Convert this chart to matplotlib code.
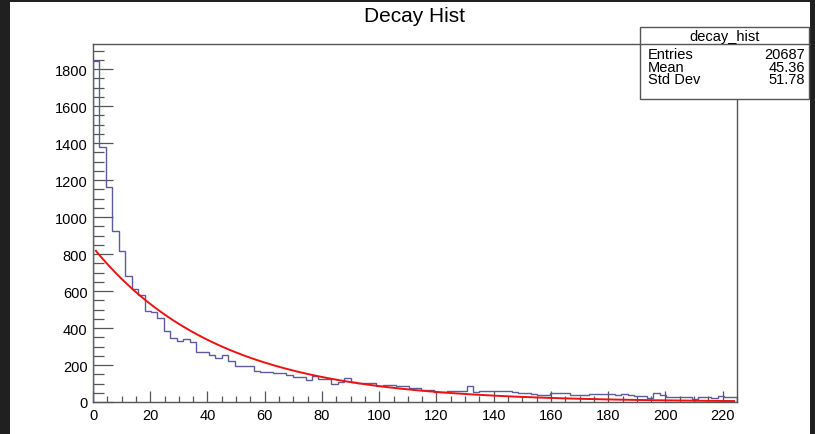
import numpy as np
import matplotlib
matplotlib.use("Agg")
import matplotlib.pyplot as plt
from matplotlib.patches import Rectangle
from matplotlib.ticker import MultipleLocator

plt.rcParams['font.family'] = ['Liberation Sans', 'DejaVu Sans']

# ---------------- data ----------------
title = "Decay Hist"
hist_name = "decay_hist"
n_bins = 100
x_min, x_max = 0.0, 225.0
counts = [
    1843, 1377, 1162, 926, 815, 683, 611, 580, 493, 485,
    452, 385, 348, 328, 340, 324, 270, 268, 254, 238,
    254, 220, 192, 192, 194, 165, 162, 160, 158, 155,
    145, 133, 133, 119, 142, 124, 124, 97, 110, 128,
    110, 103, 103, 105, 85, 92, 92, 88, 88, 74,
    74, 66, 66, 55, 52, 61, 58, 58, 85, 52,
    58, 58, 62, 61, 57, 52, 47, 47, 42, 40,
    40, 47, 50, 48, 38, 40, 36, 42, 43, 43,
    43, 38, 43, 40, 34, 30, 22, 49, 40, 29,
    29, 25, 25, 16, 25, 25, 20, 34, 25, 25,
]
# exponential fit parameters (TF1 drawn over its range)
fit_amp = 836.0
fit_tau = 43.9
fit_range = [1.0, 224.0]
stats_labels = ["Entries", "Mean", "Std Dev"]
stats_values = ["20687", "45.36", "51.78"]

# ---------------- figure ----------------
W, H = 815, 435
fig = plt.figure(figsize=(W / 100, H / 100), dpi=100)
fig.patch.set_facecolor('#202020')
fig.add_artist(Rectangle((10 / W, 0), 800 / W, (H - 3) / H, transform=fig.transFigure,
                         facecolor='white', edgecolor='none', zorder=-10))

ax_l, ax_r, ax_t, ax_b = 93, 737, 45, 403
ax = fig.add_axes([ax_l / W, (H - ax_b) / H, (ax_r - ax_l) / W, (ax_b - ax_t) / H])
ax.set_facecolor('white')

edges = np.linspace(x_min, x_max, n_bins + 1)
ax.stairs(counts, edges, baseline=0, color='#5c5c9c', lw=1.0, zorder=3)

xf = np.linspace(fit_range[0], fit_range[1], 400)
ax.plot(xf, fit_amp * np.exp(-xf / fit_tau), color='#ee1111', lw=1.4, zorder=4)

ax.set_xlim(x_min, x_max)
ax.set_ylim(0, 1.05 * max(counts))

frame_col = '#555555'
for s in ax.spines.values():
    s.set_color(frame_col)
    s.set_linewidth(1.0)

ax.xaxis.set_major_locator(MultipleLocator(20))
ax.xaxis.set_minor_locator(MultipleLocator(5))
ax.yaxis.set_major_locator(MultipleLocator(200))
ax.yaxis.set_minor_locator(MultipleLocator(50))
ax.tick_params(axis='x', which='major', direction='in', length=8, width=0.9,
               color=frame_col, labelsize=10.5, pad=4, top=False)
ax.tick_params(axis='x', which='minor', direction='in', length=4, width=0.9,
               color=frame_col, top=False)
ax.tick_params(axis='y', which='major', direction='in', length=14.5, width=0.9,
               color=frame_col, labelsize=10.5, pad=4, right=False)
ax.tick_params(axis='y', which='minor', direction='in', length=8, width=0.9,
               color=frame_col, right=False)

fig.text(415 / W, 1 - 17 / H, title, ha='center', va='center', fontsize=15)

# ---------------- stats box ----------------
bx0, bx1, by0, by1, bhead = 640, 809, 28, 100, 45
fig.add_artist(Rectangle((bx0 / W, 1 - by1 / H), (bx1 - bx0) / W, (by1 - by0) / H,
                         transform=fig.transFigure, facecolor='white',
                         edgecolor=frame_col, lw=1.0, zorder=10))
fig.add_artist(plt.Line2D([bx0 / W, bx1 / W], [1 - bhead / H, 1 - bhead / H],
                          transform=fig.transFigure, color=frame_col, lw=1.0, zorder=11))
fig.text((bx0 + bx1) / 2 / W, 1 - 36.5 / H, hist_name, ha='center', va='center',
         fontsize=10.5, zorder=12)
row_y = [55, 67.5, 80]
for lab, val, yy in zip(stats_labels, stats_values, row_y):
    fig.text(648 / W, 1 - yy / H, lab, ha='left', va='center', fontsize=10.5, zorder=12)
    fig.text(805 / W, 1 - yy / H, val, ha='right', va='center', fontsize=10.5, zorder=12)

fig.savefig('out.png', dpi=100, facecolor=fig.get_facecolor())
